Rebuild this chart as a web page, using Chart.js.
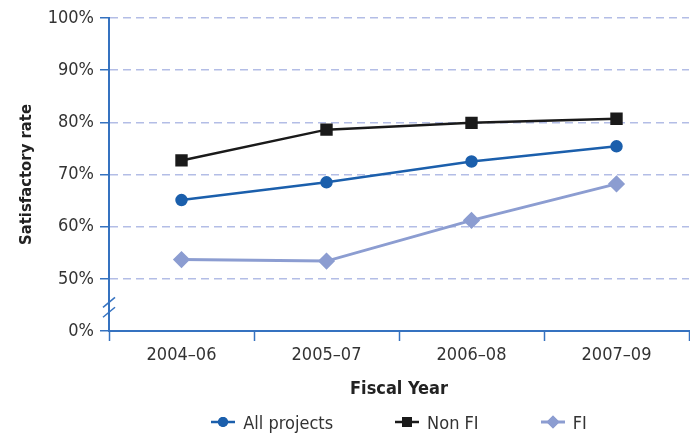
<!DOCTYPE html>
<html>
<head>
<meta charset="utf-8">
<script src="https://cdn.jsdelivr.net/npm/chart.js@4"></script>
<style>
    html, body { margin: 0; padding: 0; background: #fff; }
    #wrap { position: relative; width: 690px; height: 434px; }
    #legend {
        position: absolute; left: 109px; width: 580px; top: 410px; height: 24px;
        display: flex; justify-content: center; align-items: center; gap: 62px;
        font: 18px 'Liberation Sans Narrow', 'DejaVu Sans Condensed', sans-serif; color: #333;
    }
    #legend .item { display: flex; align-items: center; gap: 8px; }
</style>
</head>
<body>
<div id="wrap">
    <canvas id="chart" width="690" height="434"></canvas>
    <div id="legend"></div>
</div>
<script>
// Data
const categories = ['2004–06', '2005–07', '2006–08', '2007–09'];
const allProjects = [65.1, 68.5, 72.5, 75.4];
const nonFI = [72.7, 78.6, 79.9, 80.7];
const fi = [53.7, 53.4, 61.2, 68.2];
// scale runs 40..100, the bottom tick stands for 0% (broken axis)
const yTickLabels = ['0%', '50%', '60%', '70%', '80%', '90%', '100%'];

const FONT = "'Liberation Sans Narrow', 'DejaVu Sans Condensed', sans-serif";
const axisColor = '#3572c0';
const gridColor = '#b3bde6';
const textColor = '#333';

// Axis break marks on the y axis
const axisBreak = {
    id: 'axisBreak',
    afterDraw(chart) {
        const y = chart.scales.y;
        const ctx = chart.ctx;
        const x = y.right;
        ctx.save();
        ctx.strokeStyle = axisColor;
        ctx.lineWidth = 1.5;
        [45.5, 43.6].forEach(v => {
            const py = y.getPixelForValue(v);
            ctx.beginPath();
            ctx.moveTo(x - 6, py + 5);
            ctx.lineTo(x + 6, py - 5);
            ctx.stroke();
        });
        ctx.restore();
    }
};

const chart = new Chart(document.getElementById('chart'), {
    type: 'line',
    data: {
        labels: categories,
        datasets: [
            {
                label: 'All projects', data: allProjects,
                borderColor: '#1b5fac', backgroundColor: '#1b5fac', borderWidth: 2.5,
                pointStyle: 'circle', pointRadius: 5, pointHoverRadius: 5
            },
            {
                label: 'Non FI', data: nonFI,
                borderColor: '#1a1a1a', backgroundColor: '#1a1a1a', borderWidth: 2.5,
                pointStyle: 'rect', pointRadius: 7, pointHoverRadius: 7
            },
            {
                label: 'FI', data: fi,
                borderColor: '#8c9dd1', backgroundColor: '#8c9dd1', borderWidth: 3,
                pointStyle: 'rectRot', pointRadius: 6.5, pointHoverRadius: 6.5
            }
        ]
    },
    options: {
        responsive: false,
        animation: false,
        layout: { autoPadding: false, padding: { top: 18, right: 1, bottom: 33, left: 0 } },
        plugins: { legend: { display: false }, tooltip: { enabled: false } },
        scales: {
            x: {
                offset: true,
                grid: {
                    offset: true, drawOnChartArea: false, tickLength: 10,
                    color: axisColor, tickColor: axisColor, tickWidth: 1.5
                },
                border: { color: axisColor, width: 2 },
                ticks: { color: textColor, padding: 4, font: { family: FONT, size: 18 } },
                title: {
                    display: true, text: 'Fiscal Year', color: '#222',
                    padding: { top: 0, bottom: 1 },
                    font: { family: FONT, size: 18, weight: 'bold' }
                },
                afterFit: s => { s.height = 70; }
            },
            y: {
                min: 40, max: 100,
                grid: {
                    color: c => (c.tick && c.tick.value === 40) ? 'rgba(0,0,0,0)' : gridColor,
                    lineWidth: 1.5, tickLength: 9, tickColor: axisColor, tickWidth: 1.5,
                    tickBorderDash: []
                },
                border: { color: axisColor, width: 2, dash: [8, 5] },
                ticks: {
                    stepSize: 10, color: textColor, padding: 6,
                    font: { family: FONT, size: 18 },
                    callback: (v, i) => yTickLabels[i]
                },
                title: {
                    display: true, text: 'Satisfactory rate', color: '#222',
                    padding: { top: 17, bottom: 0 },
                    font: { family: FONT, size: 16.5, weight: 'bold' }
                },
                afterFit: s => { s.width = 109; }
            }
        }
    },
    plugins: [axisBreak]
});

// HTML legend: line with marker, then text
const legendEl = document.getElementById('legend');
chart.data.datasets.forEach(ds => {
    const item = document.createElement('div');
    item.className = 'item';
    const c = document.createElement('canvas');
    c.width = 24; c.height = 16;
    const g = c.getContext('2d');
    g.strokeStyle = ds.borderColor;
    g.lineWidth = ds.borderWidth;
    g.beginPath(); g.moveTo(0, 8); g.lineTo(24, 8); g.stroke();
    g.fillStyle = ds.backgroundColor;
    Chart.helpers.drawPoint(g, { pointStyle: ds.pointStyle, radius: ds.pointRadius, borderWidth: 0 }, 12, 8);
    g.fill();
    const span = document.createElement('span');
    span.textContent = ds.label;
    item.appendChild(c);
    item.appendChild(span);
    legendEl.appendChild(item);
});
</script>
</body>
</html>
